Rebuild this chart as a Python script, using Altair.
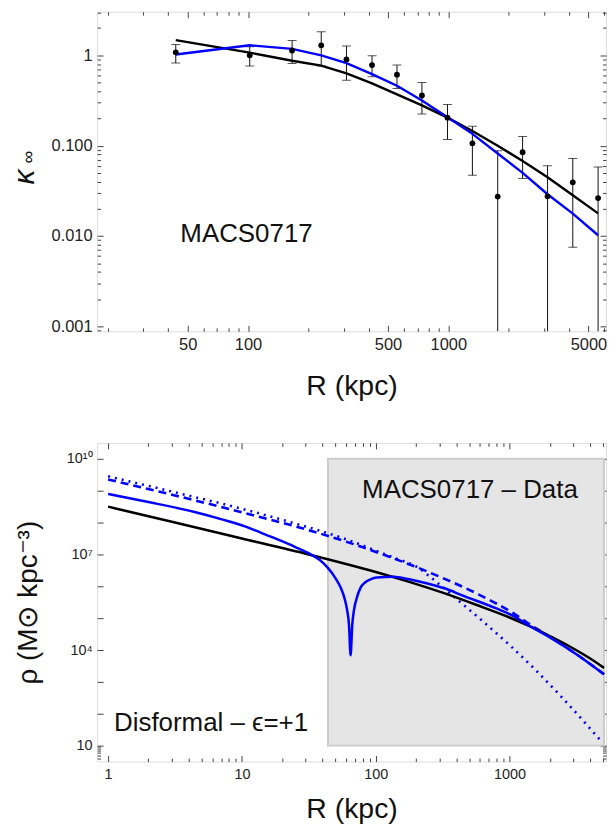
import altair as alt
import pandas as pd

# ---------------- top panel : kappa_inf vs R ----------------
R_obs = [43.6, 102, 166, 232, 310, 416, 554, 738, 990, 1318, 1763, 2347, 3126, 4178, 5587]
kappa_obs = [1.08, 1.00, 1.13, 1.29, 0.90, 0.78, 0.61, 0.359, 0.204, 0.106, 0.0273, 0.0846, 0.0275, 0.0393, 0.0263]
kappa_hi = [1.32, 1.24, 1.46, 1.82, 1.27, 0.99, 0.78, 0.50, 0.286, 0.164, 0.088, 0.126, 0.060, 0.072, 0.058]
kappa_lo = [0.82, 0.76, 0.81, 0.76, 0.53, 0.58, 0.43, 0.224, 0.117, 0.047, 0.0001, 0.0434, 0.0001, 0.0075, 0.0001]
kappa_black = [1.47, 1.07, 0.87, 0.77, 0.63, 0.49, 0.37, 0.279, 0.204, 0.145, 0.100, 0.0676, 0.0447, 0.0282, 0.0178]
kappa_blue = [1.02, 1.29, 1.18, 1.00, 0.82, 0.62, 0.46, 0.316, 0.206, 0.135, 0.082, 0.050, 0.029, 0.0177, 0.0102]

top_x_major = [50, 100, 500, 1000, 5000]
top_x_minor = [20, 30, 40, 60, 70, 80, 90, 200, 300, 400, 600, 700, 800, 900, 2000, 3000, 4000, 6000]
top_y_major = [0.001, 0.01, 0.1, 1]
top_y_minor = [0.0009, 0.002, 0.003, 0.004, 0.005, 0.006, 0.007, 0.008, 0.009,
               0.02, 0.03, 0.04, 0.05, 0.06, 0.07, 0.08, 0.09,
               0.2, 0.3, 0.4, 0.5, 0.6, 0.7, 0.8, 0.9, 2, 3]

# ---------------- bottom panel : rho vs R ----------------
R_black = [1, 3.16, 10, 31.6, 100, 178, 316, 562, 1000, 1413, 1995, 2818, 3981, 5080]
rho_black = [3.16e8, 1.0e8, 3.16e7, 1.0e7, 2.82e6, 1.38e6, 6.3e5, 2.63e5, 1.05e5, 5.6e4, 2.75e4, 1.29e4, 5.5e3, 2.75e3]

R_blue = [1, 2.0, 4.43, 7.08, 10.4, 14.1, 18.5, 25.1, 32.7, 38.0, 43.4, 50.1, 54.7, 58.2, 61.2, 63.1, 64.9,
          66.8, 68.7, 72.4, 77.1, 83.2, 91.4, 102, 136, 178, 248, 331, 443, 780, 1100, 1380,
          2000, 3160, 5080]
rho_blue = [7.9e8, 4.42e8, 2.14e8, 1.26e8, 7.76e7, 4.68e7, 2.95e7, 1.70e7, 1.0e7, 6.76e6, 3.98e6, 1.78e6,
            9.1e5, 4.47e5, 1.74e5, 6.3e4, 6.8e3, 6.3e4, 1.74e5, 4.5e5, 9.1e5, 1.32e6, 1.66e6, 1.9e6,
            2.0e6, 1.66e6, 1.2e6, 8.5e5, 5.2e5, 2.1e5, 1.1e5, 6.0e4, 2.5e4, 7.4e3, 1.74e3]

R_dash = [1, 3.16, 10, 25.1, 61.2, 122, 248, 585, 1100, 1380, 2000, 3160, 5080]
rho_dash = [2.24e9, 7.1e8, 2.09e8, 7.6e7, 2.45e7, 8.9e6, 2.8e6, 5.6e5, 1.32e5, 6.9e4, 2.6e4, 7.4e3, 1.74e3]

R_dot = [1, 3.16, 10, 25.1, 61.2, 100, 140, 200, 282, 428, 620, 1040, 1585, 2440, 4800]
rho_dot = [2.82e9, 8.9e8, 2.7e8, 9.3e7, 2.9e7, 1.32e7, 7.6e6, 4.2e6, 1.41e6, 3.2e5, 8.5e4, 1.23e4, 2.24e3, 3.4e2, 1.45e1]

rect_R = [44, 5080]
rect_rho = [10, 1e10]

bot_x_major = [1, 10, 100, 1000]
bot_x_minor = [m * d for d in (1, 10, 100, 1000) for m in range(2, 10) if m * d < 5200]
bot_y_major = [10, 1e2, 1e3, 1e4, 1e5, 1e6, 1e7, 1e8, 1e9, 1e10]
bot_y_labeled = [10, 1e4, 1e7, 1e10]
bot_y_minor = [4, 5, 6, 7, 8, 9]

# ---------------- geometry ----------------
W = 511
H_TOP = 321
H_BOT = 320
TOP_XDOM = [17.66, 6120]
TOP_YDOM = [0.00088, 3.04]
BOT_XDOM = [0.828, 5260]
BOT_YDOM = [10 ** 0.5, 10 ** 10.5]

FONT = "Liberation Sans"
FRAME = "#444444"
BLUE = "#0000ff"
INK = "#111111"
LBL = "#222222"


def tick_layer(xdom, ydom, W, H, xvals, yvals, side, size):
    """Invisible layer that only carries inward-pointing tick axes."""
    df = pd.DataFrame({"x": [xdom[0] * 2, xdom[1] / 2], "y": [ydom[0] * 2, ydom[1] / 2]})
    if side == "near":  # ticks on bottom & left edges, pointing inward
        xo, yo = "top", "right"
    else:  # ticks on top & right edges, pointing inward
        xo, yo = "bottom", "left"
    common = dict(labels=False, domain=False, grid=False, title=None,
                  tickSize=size, tickColor=FRAME, tickWidth=1)
    return alt.Chart(df).mark_point(opacity=0, size=1).encode(
        x=alt.X("x:Q", scale=alt.Scale(type="log", domain=xdom),
                axis=alt.Axis(orient=xo, offset=-H, values=xvals, **common)),
        y=alt.Y("y:Q", scale=alt.Scale(type="log", domain=ydom),
                axis=alt.Axis(orient=yo, offset=-W, values=yvals, **common)),
    )


def ticks_all(xdom, ydom, W, H, xmaj, xmin, ymaj, ymin):
    return [
        tick_layer(xdom, ydom, W, H, xmaj, ymaj, "near", 6),
        tick_layer(xdom, ydom, W, H, xmin, ymin, "near", 3.5),
        tick_layer(xdom, ydom, W, H, xmaj, ymaj, "far", 6),
        tick_layer(xdom, ydom, W, H, xmin, ymin, "far", 3.5),
    ]


def text_at(t, x, y, size, angle=0, style="normal"):
    return alt.Chart(pd.DataFrame({"t": [t]})).mark_text(
        font=FONT, fontSize=size, fontStyle=style, color=INK, angle=angle,
        align="center", baseline="middle").encode(text="t:N", x=alt.value(x), y=alt.value(y))


# ---------------- top panel ----------------
top_df = pd.DataFrame({"R": R_obs, "k": kappa_obs, "hi": kappa_hi, "lo": kappa_lo,
                       "kb": kappa_black, "kbl": kappa_blue})
xs_top = alt.Scale(type="log", domain=TOP_XDOM)
ys_top = alt.Scale(type="log", domain=TOP_YDOM)

top_axes = alt.Chart(top_df).mark_point(opacity=0, size=1).encode(
    x=alt.X("R:Q", scale=xs_top,
            axis=alt.Axis(orient="bottom", values=top_x_major, format="d", tickSize=0, domain=False,
                          grid=False, labelPadding=5, labelFontSize=16.5, labelColor=LBL,
                          title="R (kpc)", titleFontSize=28.5, titleFontWeight="normal",
                          titleY=54, titleBaseline="middle", titleColor=INK)),
    y=alt.Y("k:Q", scale=ys_top,
            axis=alt.Axis(orient="left", values=top_y_major, tickSize=0, domain=False, grid=False,
                          labelExpr="datum.value >= 1 ? '1' : format(datum.value, '.3f')",
                          labelPadding=5, labelFontSize=16.5, labelColor=LBL, title=None)),
)

enc_x = alt.X("R:Q", scale=xs_top, axis=None)
err_rule = alt.Chart(top_df).mark_rule(color=INK, strokeWidth=1, clip=True).encode(
    x=enc_x, y=alt.Y("lo:Q", scale=ys_top, axis=None), y2="hi:Q")
cap_hi = alt.Chart(top_df).mark_tick(color=INK, orient="horizontal", size=9, thickness=1, clip=True).encode(
    x=enc_x, y=alt.Y("hi:Q", scale=ys_top, axis=None))
cap_lo = alt.Chart(top_df).mark_tick(color=INK, orient="horizontal", size=9, thickness=1, clip=True).encode(
    x=enc_x, y=alt.Y("lo:Q", scale=ys_top, axis=None))
pts = alt.Chart(top_df).mark_circle(color="black", size=34, opacity=1).encode(
    x=enc_x, y=alt.Y("k:Q", scale=ys_top, axis=None))
line_black = alt.Chart(top_df).mark_line(color="black", strokeWidth=2.4).encode(
    x=enc_x, y=alt.Y("kb:Q", scale=ys_top, axis=None))
line_blue = alt.Chart(top_df).mark_line(color=BLUE, strokeWidth=2.4).encode(
    x=enc_x, y=alt.Y("kbl:Q", scale=ys_top, axis=None))

top = alt.layer(
    top_axes, *ticks_all(TOP_XDOM, TOP_YDOM, W, H_TOP, top_x_major, top_x_minor, top_y_major, top_y_minor),
    err_rule, cap_hi, cap_lo, line_black, line_blue, pts,
    text_at("MACS0717", 150, 223.5, 26),
    text_at("κ", -72.5, 166, 30, angle=270, style="italic"),
    text_at("∞", -68, 146, 18, angle=270),
).resolve_axis(x="independent", y="independent").properties(width=W, height=H_TOP)

# ---------------- bottom panel ----------------
xs_b = alt.Scale(type="log", domain=BOT_XDOM)
ys_b = alt.Scale(type="log", domain=BOT_YDOM)

rect_df = pd.DataFrame({"x1": [rect_R[0]], "x2": [rect_R[1]], "y1": [rect_rho[0]], "y2": [rect_rho[1]]})
bot_axes = alt.Chart(rect_df).mark_point(opacity=0, size=1).encode(
    x=alt.X("x1:Q", scale=xs_b,
            axis=alt.Axis(orient="bottom", values=bot_x_major, format="d", tickSize=0, domain=False,
                          grid=False, labelPadding=6, labelFontSize=14.5, labelColor=LBL,
                          title="R (kpc)", titleFontSize=28.5, titleFontWeight="normal",
                          titleY=47, titleBaseline="middle", titleColor=INK)),
    y=alt.Y("y1:Q", scale=ys_b,
            axis=alt.Axis(orient="left", values=bot_y_labeled, tickSize=0, domain=False, grid=False,
                          labelExpr="datum.value < 50 ? '10' : datum.value < 5e4 ? '10⁴' : datum.value < 5e7 ? '10⁷' : '10¹⁰'",
                          labelPadding=5, labelFontSize=14.5, labelColor=LBL,
                          title="ρ (M⊙ kpc⁻³)", titleFontSize=28, titleFontWeight="normal",
                          titleX=-69, titleY=H_BOT / 2, titleAngle=270, titleAlign="center",
                          titleBaseline="middle", titleColor=INK)),
)
rect = alt.Chart(rect_df).mark_rect(fill="#e5e5e5", stroke="#cccccc", strokeWidth=2).encode(
    x=alt.X("x1:Q", scale=xs_b, axis=None), x2="x2:Q",
    y=alt.Y("y1:Q", scale=ys_b, axis=None), y2="y2:Q")


def curve(xs, ys, color, dash=None, width=2.5):
    df = pd.DataFrame({"R": xs, "rho": ys})
    kw = dict(color=color, strokeWidth=width, clip=True, interpolate="monotone")
    if dash:
        kw["strokeDash"] = dash
    return alt.Chart(df).mark_line(**kw).encode(
        x=alt.X("R:Q", scale=xs_b, axis=None), y=alt.Y("rho:Q", scale=ys_b, axis=None), order="R:Q")


c_dot = curve(R_dot, rho_dot, BLUE, dash=[2, 5], width=2.6)
c_dash = curve(R_dash, rho_dash, BLUE, dash=[8, 5], width=2.6)
c_black = curve(R_black, rho_black, "black")
c_blue = curve(R_blue, rho_blue, BLUE)

bottom = alt.layer(
    rect, bot_axes, *ticks_all(BOT_XDOM, BOT_YDOM, W, H_BOT, bot_x_major, bot_x_minor, bot_y_major, bot_y_minor),
    c_dot, c_dash, c_black, c_blue,
    text_at("MACS0717 – Data", 374.4, 47.6, 26),
    text_at("Disformal – ϵ=+1", 114.4, 281.6, 26),
).resolve_axis(x="independent", y="independent").properties(width=W, height=H_BOT)

chart = alt.vconcat(top, bottom, spacing=42).properties(
    padding={"left": 1.5, "top": 1, "right": 0, "bottom": 0}
).configure_view(stroke=FRAME, strokeWidth=1).configure(font=FONT)

chart.save("out.html", embed_options={"renderer": "svg", "actions": False})
